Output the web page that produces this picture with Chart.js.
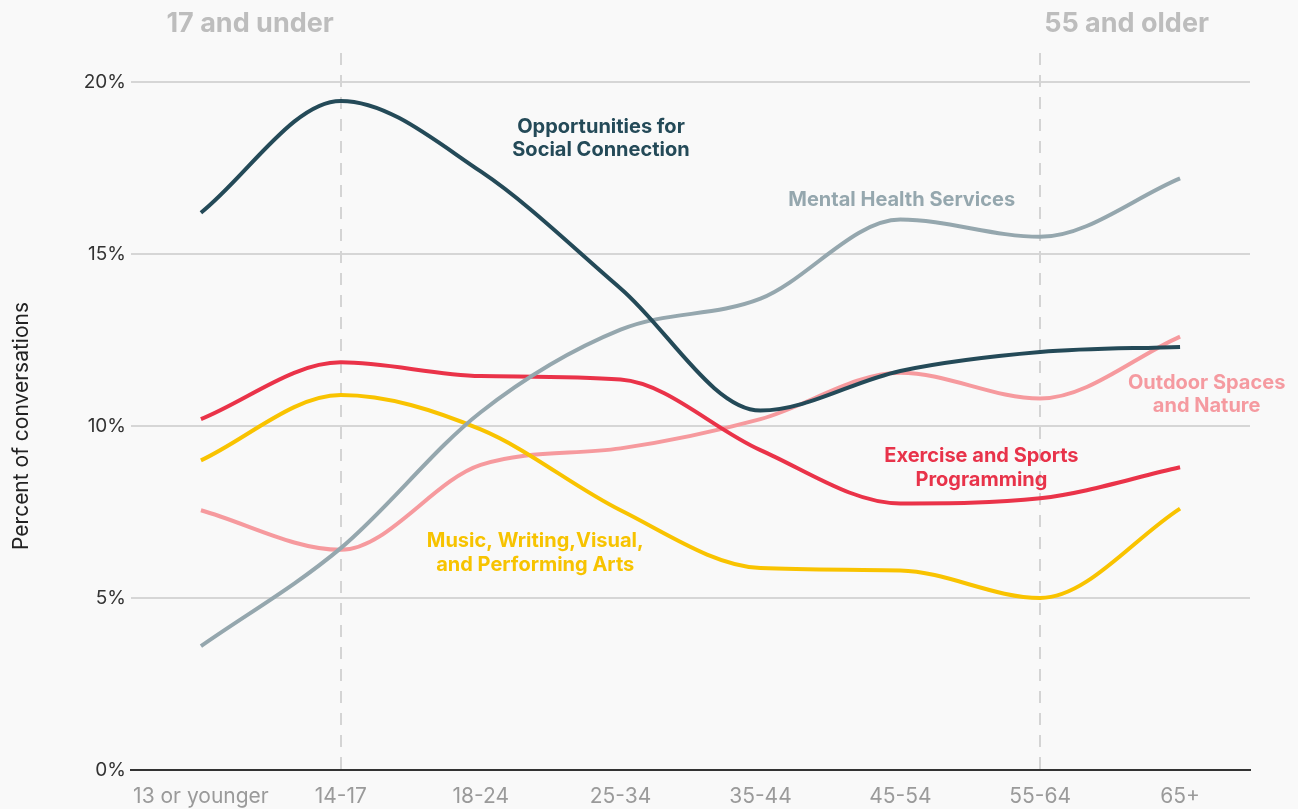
<!DOCTYPE html>
<html>
<head>
<meta charset="utf-8">
<script src="https://cdn.jsdelivr.net/npm/chart.js@4"></script>
<style>
  html, body { margin: 0; padding: 0; background: #f9f9f9; }
  #wrap { width: 1298px; height: 809px; position: relative; }
</style>
</head>
<body>
<div id="wrap"><canvas id="chart"></canvas></div>
<script>
const ageGroups = ["13 or younger", "14-17", "18-24", "25-34", "35-44", "45-54", "55-64", "65+"];

const socialConnection = [16.2, 19.45, 17.4, 14.0, 10.45, 11.6, 12.15, 12.3];
const mentalHealth = [3.6, 6.45, 10.4, 12.8, 13.7, 16.0, 15.5, 17.2];
const exerciseSports = [10.2, 11.85, 11.45, 11.35, 9.3, 7.75, 7.9, 8.8];
const musicArts = [9.0, 10.9, 9.9, 7.55, 5.87, 5.8, 5.0, 7.6];
const outdoorSpaces = [7.55, 6.4, 8.87, 9.35, 10.2, 11.55, 10.8, 12.6];

const yTicks = [0, 5, 10, 15, 20];

// series label anchors: [category index, value]
const seriesLabels = [
  { lines: ["Opportunities for", "Social Connection"], at: [2.86, 18.36], color: "#244a58" },
  { lines: ["Mental Health Services"], at: [5.01, 16.57], color: "#95a7ae" },
  { lines: ["Outdoor Spaces", "and Nature"], at: [7.19, 10.92], color: "#f59aa0" },
  { lines: ["Exercise and Sports", "Programming"], at: [5.58, 8.78], color: "#e8334a" },
  { lines: ["Music, Writing,Visual,", "and Performing Arts"], at: [2.39, 6.31], color: "#f7c300" },
];

const dividers = [
  { index: 1, text: "17 and under", side: "left" },
  { index: 6, text: "55 and older", side: "right" },
];

const FONT = "Inter, 'Noto Sans', sans-serif";

const overlayPlugin = {
  id: "overlay",
  beforeDatasetsDraw(chart) {
    const { ctx, chartArea, scales } = chart;
    ctx.save();
    ctx.strokeStyle = "#d4d4d4";
    ctx.lineWidth = 2;
    ctx.setLineDash([12, 10]);
    dividers.forEach((d) => {
      const x = Math.round(scales.x.getPixelForValue(d.index));
      ctx.beginPath();
      ctx.moveTo(x, 53);
      ctx.lineTo(x, chartArea.bottom);
      ctx.stroke();
    });
    ctx.restore();
  },
  afterDatasetsDraw(chart) {
    const { ctx, scales } = chart;
    ctx.save();
    // header labels
    ctx.font = "bold 27px " + FONT;
    ctx.fillStyle = "#bdbdbd";
    ctx.textBaseline = "middle";
    dividers.forEach((d) => {
      const x = scales.x.getPixelForValue(d.index);
      if (d.side === "left") {
        ctx.textAlign = "right";
        ctx.fillText(d.text, x - 7, 24);
      } else {
        ctx.textAlign = "left";
        ctx.fillText(d.text, x + 4, 24);
      }
    });
    // series labels
    ctx.font = "bold 20px " + FONT;
    ctx.textAlign = "center";
    seriesLabels.forEach((l) => {
      const x = scales.x.getPixelForValue(l.at[0]);
      const y = scales.y.getPixelForValue(l.at[1]);
      const lh = 23.5;
      const y0 = y - ((l.lines.length - 1) * lh) / 2;
      ctx.fillStyle = l.color;
      l.lines.forEach((t, i) => ctx.fillText(t, x, y0 + i * lh));
    });
    ctx.restore();
  },
};

const makeSeries = (label, data, color) => ({
  label,
  data,
  borderColor: color,
  backgroundColor: color,
  borderWidth: 4,
  pointRadius: 0,
  cubicInterpolationMode: "monotone",
  fill: false,
});

new Chart(document.getElementById("chart"), {
  type: "line",
  data: {
    labels: ageGroups,
    datasets: [
      makeSeries("Opportunities for Social Connection", socialConnection, "#244a58"),
      makeSeries("Mental Health Services", mentalHealth, "#95a7ae"),
      makeSeries("Exercise and Sports Programming", exerciseSports, "#ea3349"),
      makeSeries("Music, Writing, Visual, and Performing Arts", musicArts, "#f9c300"),
      makeSeries("Outdoor Spaces and Nature", outdoorSpaces, "#f69a9e"),
    ],
  },
  options: {
    responsive: true,
    maintainAspectRatio: false,
    animation: false,
    layout: { padding: { top: 82, right: 48, bottom: 0, left: 0 } },
    plugins: {
      legend: { display: false },
      tooltip: { enabled: false },
    },
    scales: {
      x: {
        offset: true,
        afterFit: (s) => { s.height = 39; },
        grid: { display: false, drawTicks: false },
        border: { display: true, color: "#333333", width: 2 },
        ticks: { color: "#9a9a9a", font: { family: FONT, size: 21 }, padding: 14, maxRotation: 0 },
      },
      y: {
        min: 0,
        max: 20,
        afterFit: (s) => { s.width = 131; },
        afterBuildTicks: (s) => { s.ticks = yTicks.map((v) => ({ value: v })); },
        grid: { color: "#d6d6d6", lineWidth: 2, drawTicks: false },
        border: { display: false },
        ticks: {
          color: "#333333",
          font: { family: FONT, size: 19 },
          padding: 5,
          callback: (v) => v + "%",
        },
        title: {
          display: true,
          text: "Percent of conversations",
          color: "#222222",
          font: { family: FONT, size: 21 },
          padding: { top: 9, bottom: 0 },
        },
      },
    },
  },
  plugins: [overlayPlugin],
});
</script>
</body>
</html>
